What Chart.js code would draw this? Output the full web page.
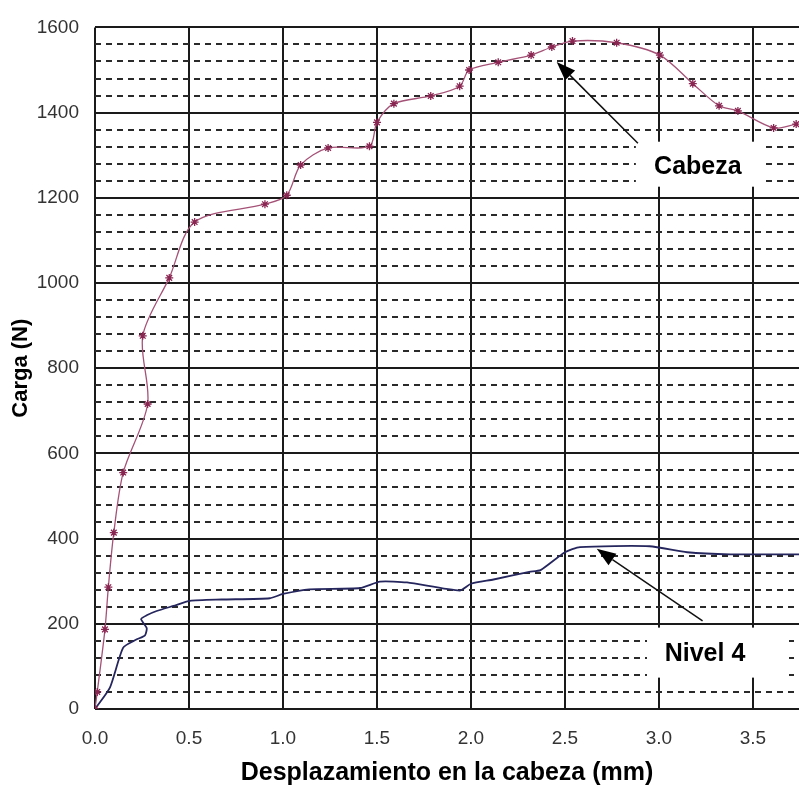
<!DOCTYPE html>
<html lang="es">
<head>
  <meta charset="UTF-8" />
  <title>Carga vs desplazamiento</title>
  <script src="https://cdn.jsdelivr.net/npm/chart.js"></script>
  <style>
    html, body { margin: 0; padding: 0; background: #fff; }
    canvas { display: block; }
  </style>
</head>
<body>
  <canvas id="chart" width="799" height="788"></canvas>

  <script>
    // Cabeza (curva con marcadores)
    const cabezaX = [0, 0.012, 0.053, 0.071, 0.10, 0.15, 0.28, 0.254, 0.395, 0.53, 0.904, 1.02, 1.094, 1.24, 1.46, 1.50, 1.59, 1.786, 1.94, 1.99, 2.145, 2.32, 2.43, 2.54, 2.775, 3.005, 3.18, 3.32, 3.42, 3.61, 3.73];
    const cabezaY = [0, 40, 187, 286, 414, 555, 716, 876, 1012, 1143, 1185, 1206, 1277, 1317, 1321, 1377, 1421, 1439, 1462, 1500, 1518, 1535, 1554, 1568, 1564, 1535, 1468, 1416, 1404, 1364, 1373];

    // Nivel 4 (línea sin marcadores)
    const nivelX = [0, 0.08, 0.15, 0.22, 0.266, 0.275, 0.245, 0.275, 0.328, 0.417, 0.505, 0.674, 0.93, 1.0, 1.14, 1.41, 1.516, 1.66, 1.94, 2.0, 2.12, 2.31, 2.37, 2.50, 2.58, 2.95, 3.15, 3.38, 3.75];
    const nivelY = [0, 51, 144, 163, 173, 190, 211, 220, 230, 242, 254, 257, 260, 270, 281, 284, 299, 297, 278, 294, 304, 322, 326, 368, 380, 382, 368, 363, 363];

    const xTicks = [0, 0.5, 1.0, 1.5, 2.0, 2.5, 3.0, 3.5];
    const yTicks = [0, 200, 400, 600, 800, 1000, 1200, 1400, 1600];

    const toPoints = (xs, ys) => xs.map((x, i) => ({ x, y: ys[i] }));

    // etiquetas con flecha
    const notas = [
      { text: 'Cabeza', x: 3.207, y: 1273, box: [62, 67, 25, 20], from: [2.888, 1328], to: [2.456, 1519] },
      { text: 'Nivel 4', x: 3.245, y: 130, box: [58, 84, 26, 24], from: [3.232, 207], to: [2.669, 376] }
    ];

    const notasPlugin = {
      id: 'notas',
      afterDatasetsDraw(chart) {
        const { ctx, scales: { x, y } } = chart;
        ctx.save();
        notas.forEach(n => {
          const cx = x.getPixelForValue(n.x);
          const cy = y.getPixelForValue(n.y);
          ctx.fillStyle = '#fff';
          ctx.fillRect(cx - n.box[0], cy - n.box[2], n.box[0] + n.box[1], n.box[2] + n.box[3]);

          const x1 = x.getPixelForValue(n.from[0]), y1 = y.getPixelForValue(n.from[1]);
          const x2 = x.getPixelForValue(n.to[0]), y2 = y.getPixelForValue(n.to[1]);
          const ang = Math.atan2(y2 - y1, x2 - x1);
          const len = 19, half = 7;
          const bx = x2 - len * Math.cos(ang), by = y2 - len * Math.sin(ang);
          ctx.strokeStyle = '#111';
          ctx.lineWidth = 1.5;
          ctx.beginPath();
          ctx.moveTo(x1, y1);
          ctx.lineTo(bx, by);
          ctx.stroke();
          ctx.fillStyle = '#000';
          ctx.beginPath();
          ctx.moveTo(x2, y2);
          ctx.lineTo(bx + half * Math.sin(ang), by - half * Math.cos(ang));
          ctx.lineTo(bx - half * Math.sin(ang), by + half * Math.cos(ang));
          ctx.closePath();
          ctx.fill();

          ctx.font = 'bold 25px "Liberation Sans", Arial, sans-serif';
          ctx.textAlign = 'center';
          ctx.textBaseline = 'middle';
          ctx.fillText(n.text, cx, cy);
        });
        ctx.restore();
      }
    };

    const tickFont = { family: '"Liberation Sans", Arial, sans-serif', size: 19 };

    new Chart(document.getElementById('chart'), {
      type: 'scatter',
      data: {
        datasets: [
          {
            label: 'Cabeza',
            data: toPoints(cabezaX, cabezaY),
            showLine: true,
            borderColor: '#a55277',
            borderWidth: 1.3,
            tension: 0.3,
            pointStyle: 'star',
            pointRadius: 4,
            pointBorderWidth: 1.3,
            pointBorderColor: '#8a2652',
            pointBackgroundColor: '#8a2652'
          },
          {
            label: 'Nivel 4',
            data: toPoints(nivelX, nivelY),
            showLine: true,
            borderColor: '#26265e',
            borderWidth: 1.8,
            tension: 0.2,
            pointRadius: 0
          }
        ]
      },
      options: {
        responsive: false,
        animation: false,
        layout: { autoPadding: false, padding: { top: 15, right: 0, bottom: 0, left: 0 } },
        plugins: {
          legend: { display: false },
          tooltip: { enabled: false }
        },
        scales: {
          x: {
            type: 'linear',
            min: 0,
            max: 3.745,
            afterFit: s => { s.height = 79; s.paddingRight = 0; s.paddingLeft = 0; },
            afterBuildTicks: s => { s.ticks = xTicks.map(v => ({ value: v })); },
            ticks: {
              padding: 18,
              color: '#333',
              font: tickFont,
              maxRotation: 0,
              autoSkip: false,
              callback: v => Number(v).toFixed(1)
            },
            grid: { color: '#1a1a1a', lineWidth: 2, drawTicks: false },
            border: { display: false },
            title: {
              display: true,
              text: 'Desplazamiento en la cabeza (mm)',
              color: '#000',
              font: { family: '"Liberation Sans", Arial, sans-serif', size: 25, weight: 'bold' },
              padding: { top: 0, bottom: 0 }
            }
          },
          y2: {
            type: 'linear',
            position: 'left',
            min: 0,
            max: 1600,
            afterFit: s => { s.width = 0; },
            ticks: { display: false, stepSize: 40 },
            grid: {
              drawTicks: false,
              lineWidth: 2,
              color: c => (c.tick && c.tick.value % 200 === 0) ? 'rgba(0,0,0,0)' : '#2a2a2a'
            },
            border: { display: false, dash: [6, 5] }
          },
          y: {
            type: 'linear',
            position: 'left',
            min: 0,
            max: 1600,
            afterFit: s => { s.width = 95; },
            afterBuildTicks: s => { s.ticks = yTicks.map(v => ({ value: v })); },
            ticks: { padding: 16, color: '#333', font: tickFont, callback: v => String(v) },
            grid: { color: '#1a1a1a', lineWidth: 2, drawTicks: false },
            border: { display: false },
            title: {
              display: true,
              text: 'Carga (N)',
              color: '#000',
              font: { family: '"Liberation Sans", Arial, sans-serif', size: 22, weight: 'bold' },
              padding: { top: 8, bottom: 0 }
            }
          }
        }
      },
      plugins: [notasPlugin]
    });
  </script>
</body>
</html>
